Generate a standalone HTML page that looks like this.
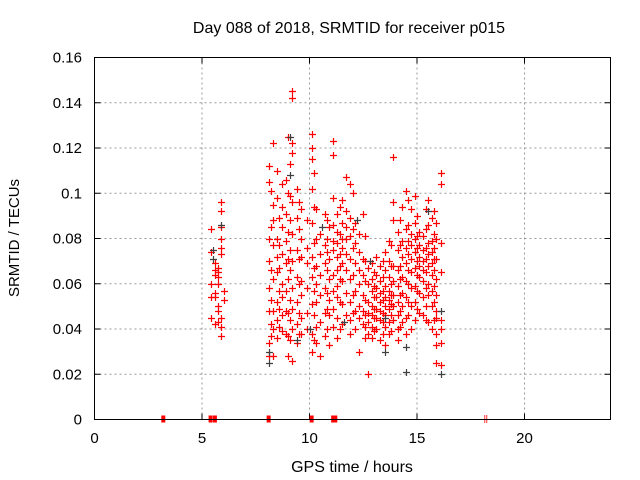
<!DOCTYPE html>
<html><head><meta charset="utf-8"><style>
html,body{margin:0;padding:0;background:#fff;}
svg{display:block;font-family:"Liberation Sans",sans-serif;}
</style></head><body>
<svg id="chart" width="640" height="480" xmlns="http://www.w3.org/2000/svg">
<text x="349" y="33" text-anchor="middle" font-size="16">Day 088 of 2018, SRMTID for receiver p015</text>
<text x="352" y="472" text-anchor="middle" font-size="16">GPS time / hours</text>
<text transform="translate(19,238) rotate(-90)" text-anchor="middle" font-size="15">SRMTID / TECUs</text>
<g id="grid"></g><g id="ticks"></g><g id="marks"></g>
<rect x="94.5" y="57.5" width="516" height="362" fill="none" stroke="#000" stroke-width="1"/>
</svg>
<script>
const xTicks=[0,5,10,15,20];
const yTicks=[0,0.02,0.04,0.06,0.08,0.1,0.12,0.14,0.16];
const yTickLabels=["0","0.02","0.04","0.06","0.08","0.1","0.12","0.14","0.16"];
const redColHours=[5.4,5.6,5.75,5.9,6.0,8.1,8.3,8.5,8.7,8.9,9.0,9.2,9.4,9.6,9.9,10.1,10.3,10.5,10.7,10.9,11.1,11.3,11.5,11.7,11.9,12.1,12.3,12.5,12.7,12.9,13.1,13.3,13.5,13.7,13.9,14.1,14.3,14.5,14.7,14.9,15.1,15.3,15.5,15.7,15.9,16.1,
8.2,8.6,9.1,9.5,10.2,10.8,11.4,12.0,12.6,13.0,13.4,13.8,14.2,14.6,15.0,15.4,15.8];
const redColValues=[
[.084,.074,.060,.054,.045],[.069,.066,.064,.056,.042,.054],[.067,.065,.063,.060,.050,.048,.043],
[.096,.092,.085,.080,.076,.073,.045,.041,.037],[.057,.053],
[.034,.028,.048,.058,.070,.080,.105,.112],[.122,.095,.088,.077,.062,.048,.040,.028],
[.110,.098,.080,.072,.065,.052,.044,.036],[.104,.094,.085,.073,.060,.054,.046,.039],
[.106,.091,.079,.069,.057,.048,.038],[.125,.100,.083,.071,.062,.047,.037,.028],
[.145,.142,.122,.118,.096,.082,.070,.058,.049,.040,.026],[.102,.089,.075,.063,.052,.042,.034],
[.093,.080,.072,.061,.055,.045,.038],[.088,.076,.069,.058,.047,.040],
[.126,.120,.115,.102,.087,.072,.063,.051,.038,.030],[.093,.080,.068,.060,.052,.041,.034],
[.082,.073,.064,.055,.043,.028],[.091,.077,.069,.058,.047,.037],[.085,.071,.062,.053,.046,.033],
[.123,.117,.098,.086,.079,.075,.064,.057,.049,.041],[.091,.083,.078,.072,.066,.059,.054,.045,.036],
[.097,.087,.080,.076,.069,.061,.051,.042],[.107,.092,.085,.080,.073,.066,.056,.046],
[.104,.089,.081,.071,.062,.052,.044,.038],[.087,.078,.069,.057,.048,.040],
[.082,.074,.066,.060,.050,.045,.030],[.091,.071,.064,.055,.048,.042],
[.067,.060,.052,.047,.043,.038,.020],[.069,.062,.057,.050,.046,.041,.036],
[.072,.064,.058,.054,.049,.045,.040],[.068,.061,.056,.052,.048,.044,.035],
[.074,.066,.059,.054,.050,.046,.041,.033],[.079,.070,.063,.057,.053,.049,.043,.038],
[.116,.096,.088,.068,.061,.055,.050,.044],[.083,.075,.066,.059,.052,.046,.040,.035],
[.094,.079,.072,.063,.056,.050,.043],[.101,.084,.076,.069,.061,.054,.045,.038],
[.093,.082,.077,.071,.065,.058,.050,.040],[.099,.087,.080,.074,.067,.059,.052,.044],
[.083,.077,.072,.068,.063,.056,.047],[.081,.075,.070,.066,.061,.054,.046],
[.097,.086,.078,.073,.068,.060,.055,.043],[.089,.079,.074,.069,.064,.057,.050,.040],
[.087,.080,.071,.062,.055,.048,.045,.038,.033,.025],[.109,.104,.078,.065,.044,.040,.034,.024],
[.101,.085,.066,.053,.042,.037],[.089,.077,.067,.057,.049,.041],[.113,.099,.088,.075,.066,.053,.044,.035],
[.096,.084,.071,.060,.047,.038],[.109,.094,.078,.067,.057,.046,.035],[.088,.080,.074,.066,.056,.049,.040],
[.094,.082,.073,.068,.062,.052,.040],[.100,.084,.076,.064,.055,.047],[.081,.070,.061,.053,.046,.041,.036],
[.065,.059,.054,.049,.045,.039],[.070,.063,.057,.053,.047,.043,.038],[.077,.068,.060,.055,.051,.046,.039],
[.088,.077,.068,.062,.055,.048,.041],[.097,.086,.079,.073,.066,.060,.052,.046],[.090,.081,.076,.070,.064,.057,.049],
[.093,.084,.076,.071,.065,.058,.050,.044],[.092,.082,.076,.071,.066,.059,.052,.044]];
const grayHours=[5.5,5.5,5.9,8.1,8.1,9.1,9.1,9.4,10.0,10.6,11.6,12.2,12.8,13.5,13.5,14.5,14.5,15.5,16.1,16.1];
const grayValues=[.075,.071,.086,.025,.030,.125,.108,.035,.040,.085,.043,.088,.070,.030,.045,.021,.032,.092,.020,.048];
const zeroHours=[3.2,5.4,5.6,8.1,10.1,11.1,11.2];

const NS="http://www.w3.org/2000/svg";
const X=h=>94.5+h*(516/24);
const Y=v=>419.5-v*(362/0.16);
function mk(tag,attrs,parent){const e=document.createElementNS(NS,tag);for(const k in attrs)e.setAttribute(k,attrs[k]);parent.appendChild(e);return e;}
const grid=document.getElementById('grid'),ticks=document.getElementById('ticks'),marks=document.getElementById('marks');
yTicks.forEach((v,i)=>{
  const y=Y(v);
  if(i>0&&i<yTicks.length-1){const g=mk('line',{x1:94.5,x2:610.5,y1:y,y2:y,stroke:'#999','stroke-dasharray':'2,3'},grid);
  
  }
  mk('line',{x1:94.5,x2:100.5,y1:y,y2:y,stroke:'#000'},ticks);
  mk('line',{x1:604.5,x2:610.5,y1:y,y2:y,stroke:'#000'},ticks);
  const t=mk('text',{x:82,y:y+5,'text-anchor':'end','font-size':15},ticks);t.textContent=yTickLabels[i];
  
  
});
xTicks.forEach(h=>{
  const x=X(h);
  if(h>0){const g=mk('line',{x1:x,x2:x,y1:57.5,y2:419.5,stroke:'#999','stroke-dasharray':'2,3'},grid);
  
  }
  mk('line',{x1:x,x2:x,y1:413.5,y2:419.5,stroke:'#000'},ticks);
  mk('line',{x1:x,x2:x,y1:57.5,y2:63.5,stroke:'#000'},ticks);
  const t=mk('text',{x:x,y:443,'text-anchor':'middle','font-size':15},ticks);t.textContent=String(h);
  
  
});
function plus(h,v,color,name){
  const x=Math.round(X(h))+0.5,y=Math.round(Y(v))+0.5;
  const p=mk('path',{d:`M${x-3.5} ${y}H${x+3.5}M${x} ${y-3.5}V${y+3.5}`,stroke:color,'stroke-width':1.2,fill:'none'},marks);
  
  
}
redColHours.forEach((h,i)=>redColValues[i].forEach(v=>plus(h,v,'#ff0000','red-point')));
grayHours.forEach((h,i)=>plus(h,grayValues[i],'#404040','gray-point'));
zeroHours.forEach(h=>{
  const r=mk('rect',{x:X(h)-2,y:415.5,width:4,height:7,fill:'#ff0000'},marks);
  
  
});
const m=mk('path',{d:`M${X(18.2)-1} 415V423M${X(18.2)+1} 415V423`,stroke:'#ff0000','stroke-width':0.8},marks);


</script>
</body></html>
